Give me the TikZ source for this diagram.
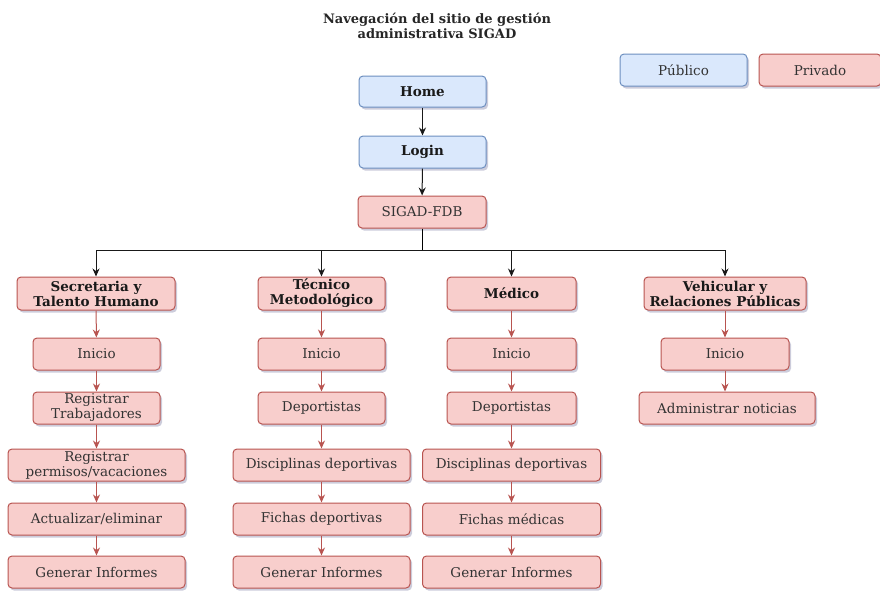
\documentclass[tikz,border=0pt]{standalone}
\usepackage{fontspec}
\setmainfont{DejaVu Serif}
\usetikzlibrary{arrows.meta,shadows,positioning}
\definecolor{bfill}{HTML}{DAE8FC}
\definecolor{bline}{HTML}{6C8EBF}
\definecolor{rfill}{HTML}{F8CECC}
\definecolor{rline}{HTML}{B85450}
\tikzset{
  box/.style={rounded corners=4pt, line width=1pt, align=center, inner sep=0pt,
    font=\fontsize{13.5}{15}\selectfont, text=black!80,
    drop shadow={opacity=0.2, shadow xshift=2pt, shadow yshift=-2.5pt, fill=black!70!blue}},
  pub/.style={box, fill=bfill, draw=bline},
  priv/.style={box, fill=rfill, draw=rline},
  sz/.style 2 args={minimum width=#1pt, minimum height=#2pt},
  blk/.style={-{Stealth[length=8pt,width=7pt]}, line width=1pt, draw=black!90},
  red/.style={-{Stealth[length=8pt,width=7pt]}, line width=1pt, draw=rline},
  bf/.style={font=\fontsize{13.5}{15}\selectfont\bfseries, text=black!90}
}
\begin{document}
\begin{tikzpicture}[x=1pt,y=-1pt]
\useasboundingbox (0,0) rectangle (880,590);
\node[font=\fontsize{13}{15}\selectfont\bfseries, align=center, text=black!85] (title) at (437,26)
  {Navegación del sitio de gestión\\administrativa SIGAD};
% legend
\node[pub, sz={127}{32}] (leg1) at (683.5,70) {Público};
\node[priv, sz={122}{32}] (leg2) at (820,70) {Privado};
% main chain
\node[pub, bf, sz={127}{31}] (home) at (422.5,91.5) {Home};
\node[pub, bf, sz={127}{32}] (login) at (422.5,152) {Login};
\node[priv, sz={128}{32}] (sigad) at (422,212) {SIGAD-FDB};
\draw[blk] (home) -- (login);
\draw[blk] (login) -- (sigad);
\coordinate (bus) at (422,250);
% top level
\node[priv, bf, sz={158}{33}] (sec) at (96,293.5) {Secretaria y\\Talento Humano};
\node[priv, bf, sz={127}{33}] (tec) at (321.5,293.5) {Técnico\\Metodológico};
\node[priv, bf, sz={129}{33}] (med) at (511.5,293.5) {Médico};
\node[priv, bf, sz={162}{33}] (veh) at (725,293.5) {Vehicular y\\Relaciones Públicas};
\draw[line width=1pt] (sigad.south) -- (bus);
\draw[blk] (bus) -| (sec.north);
\draw[blk] (bus) -| (tec.north);
\draw[blk] (bus) -| (med.north);
\draw[blk] (bus) -| (veh.north);
% column 1
\node[priv, sz={127}{32}] (s1) at (96.5,354) {Inicio};
\node[priv, sz={127}{32}] (s2) at (96.5,408) {Registrar\\Trabajadores};
\node[priv, sz={177}{32}] (s3) at (96.5,465) {Registrar\\permisos/vacaciones};
\node[priv, sz={177}{32}] (s4) at (96.5,519) {Actualizar/eliminar};
\node[priv, sz={177}{32}] (s5) at (96.5,572) {Generar Informes};
\draw[red] (sec) -- (s1);
\draw[red] (s1) -- (s2);
\draw[red] (s2) -- (s3);
\draw[red] (s3) -- (s4);
\draw[red] (s4) -- (s5);
% column 2
\node[priv, sz={127}{32}] (t1) at (321.5,354) {Inicio};
\node[priv, sz={127}{32}] (t2) at (321.5,408) {Deportistas};
\node[priv, sz={177}{32}] (t3) at (321.5,465) {Disciplinas deportivas};
\node[priv, sz={177}{32}] (t4) at (321.5,519) {Fichas deportivas};
\node[priv, sz={177}{32}] (t5) at (321.5,572) {Generar Informes};
\draw[red] (tec) -- (t1);
\draw[red] (t1) -- (t2);
\draw[red] (t2) -- (t3);
\draw[red] (t3) -- (t4);
\draw[red] (t4) -- (t5);
% column 3
\node[priv, sz={129}{32}] (m1) at (511.5,354) {Inicio};
\node[priv, sz={129}{32}] (m2) at (511.5,408) {Deportistas};
\node[priv, sz={178}{32}] (m3) at (511.5,465) {Disciplinas deportivas};
\node[priv, sz={178}{32}] (m4) at (511.5,519) {Fichas médicas};
\node[priv, sz={178}{32}] (m5) at (511.5,572) {Generar Informes};
\draw[red] (med) -- (m1);
\draw[red] (m1) -- (m2);
\draw[red] (m2) -- (m3);
\draw[red] (m3) -- (m4);
\draw[red] (m4) -- (m5);
% column 4
\node[priv, sz={128}{32}] (v1) at (725,354) {Inicio};
\node[priv, sz={176}{32}] (v2) at (727,408) {Administrar noticias};
\draw[red] (veh) -- (v1);
\draw[red] (v1) -- (v1 |- v2.north);
\end{tikzpicture}
\end{document}
